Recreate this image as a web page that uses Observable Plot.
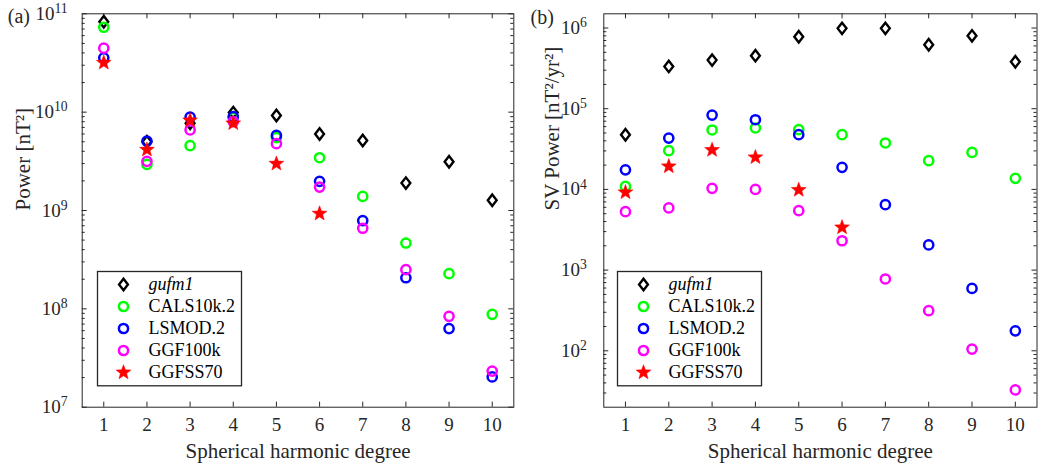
<!DOCTYPE html>
<html><head><meta charset="utf-8">
<script src="https://cdn.jsdelivr.net/npm/d3@7"></script>
<script src="https://cdn.jsdelivr.net/npm/@observablehq/plot@0.6"></script>
<style>
html,body{margin:0;padding:0;background:#fff;}
#wrap{position:relative;width:1038px;height:471px;overflow:hidden;}
#wrap > div{position:absolute;}
</style></head><body><div id="wrap"></div>
<script>
// ---------- data ----------
const degrees = [1,2,3,4,5,6,7,8,9,10];
const models = ["gufm1","CALS10k.2","LSMOD.2","GGF100k","GGFSS70"];
// (a) main-field power [nT^2]
const gufm1A   = [8.3e10, 5.0e9, 7.7e9, 9.9e9, 9.25e9, 6.0e9, 5.15e9, 1.9e9, 3.13e9, 1.27e9];
const calsA    = [7.3e10, 2.94e9, 4.56e9, 8.8e9, 5.5e9, 3.44e9, 1.39e9, 4.67e8, 2.28e8, 8.8e7];
const lsmodA   = [3.57e10, 5.07e9, 8.9e9, 9.0e9, 5.8e9, 1.98e9, 7.9e8, 2.07e8, 6.3e7, 2.03e7];
const ggf100kA = [4.47e10, 3.16e9, 6.6e9, 8.0e9, 4.78e9, 1.73e9, 6.6e8, 2.5e8, 8.4e7, 2.33e7];
const ggfss70A = [3.18e10, 4.15e9, 8.25e9, 7.7e9, 2.99e9, 9.3e8];
// (b) secular-variation power [nT^2/yr^2]
const gufm1B   = [4.76e4, 3.34e5, 4.0e5, 4.54e5, 7.8e5, 9.9e5, 9.9e5, 6.2e5, 8.0e5, 3.82e5];
const calsB    = [1.09e4, 3.02e4, 5.45e4, 5.77e4, 5.5e4, 4.76e4, 3.76e4, 2.27e4, 2.87e4, 1.37e4];
const lsmodB   = [1.75e4, 4.33e4, 8.35e4, 7.3e4, 4.76e4, 1.88e4, 6.46e3, 2.05e3, 593, 177];
const ggf100kB = [5.3e3, 5.9e3, 1.03e4, 1.0e4, 5.45e3, 2.31e3, 776, 314, 105, 32.7];
const ggfss70B = [9.2e3, 1.93e4, 3.08e4, 2.5e4, 9.85e3, 3.38e3];
const yTicksA = [1e7, 1e8, 1e9, 1e10, 1e11];
const yTicksB = [1e2, 1e3, 1e4, 1e5, 1e6];
const yDomainA = [1e7, 1e11];
const yDomainB = [20, 1.5e6];
const minorMultipliers = [2,3,4,5,6,7,8,9];
const xLabel = "Spherical harmonic degree";
const yLabelA = "Power [nT²]";
const yLabelB = "SV Power [nT²/yr²]";

// ---------- styles ----------
const AX = "#262626";
const FONT = "'Liberation Serif', 'Times New Roman', serif";
const diamondTall = {draw(ctx, size){ const r = Math.sqrt(size/Math.PI); const w = r*0.85, h = r*1.1;
  ctx.moveTo(0,-h); ctx.lineTo(w,0); ctx.lineTo(0,h); ctx.lineTo(-w,0); ctx.closePath(); }};
const star5 = {draw(ctx, size){ const R = Math.sqrt(size/Math.PI), ri = R*0.42;
  for (let i = 0; i < 10; i++){ const a = -Math.PI/2 + i*Math.PI/5, rr = i%2 ? ri : R;
    const x = rr*Math.cos(a), y = rr*Math.sin(a); if (i) ctx.lineTo(x,y); else ctx.moveTo(x,y);} ctx.closePath(); }};
const modelStyle = {
  "gufm1":     {symbol: diamondTall, r: 5.2, stroke: "#000000", strokeWidth: 2.4, fill: "none"},
  "CALS10k.2": {symbol: "circle", r: 4.6, stroke: "#00ff00", strokeWidth: 2.5, fill: "none"},
  "LSMOD.2":   {symbol: "circle", r: 4.6, stroke: "#0000ff", strokeWidth: 2.5, fill: "none"},
  "GGF100k":   {symbol: "circle", r: 4.6, stroke: "#ff00ff", strokeWidth: 2.5, fill: "none"},
  "GGFSS70":   {symbol: star5, r: 7.8, stroke: "#ff0000", strokeWidth: 0.5, fill: "#ff0000"}
};

function rows(seriesList){
  return seriesList.flatMap((vals, i) => vals.map((v, j) => ({model: models[i], n: degrees[j], v})));
}

function superscriptTicks(svg){
  svg.querySelectorAll('g[aria-label="y-axis tick label"] text').forEach(t => {
    const s = t.textContent; if (!s.includes("^")) return;
    const [b, e] = s.split("^");
    t.textContent = b;
    const ts = document.createElementNS("http://www.w3.org/2000/svg", "tspan");
    ts.setAttribute("dy", "-0.5em"); ts.setAttribute("font-size", "0.72em");
    ts.textContent = e; t.appendChild(ts);
  });
}

function panel({series, yDomain, yMajor, width, ml, mr, ylabel, ylabelDx, tickPad, tag, tagDx, tagDy}){
  const height = 471, mt = 13.3, mb = 64.3;
  const plotW = width - ml - mr, plotH = height - mt - mb;
  const yMinor = yMajor.flatMap(t => minorMultipliers.map(k => k*t)).concat(minorMultipliers.map(k => k*yMajor[0]/10))
    .filter(v => v > yDomain[0]*1.0001 && v < yDomain[1]*0.9999);
  const data = rows(series);
  const tickOpts = {stroke: AX, strokeWidth: 1};
  const txt = {fontFamily: FONT, fill: AX, lineAnchor: "middle"};
  const svg = Plot.plot({
    width, height, marginLeft: ml, marginRight: mr, marginTop: mt, marginBottom: mb,
    style: {fontFamily: FONT, fontSize: "19px", color: AX, background: "white", overflow: "visible"},
    x: {domain: [0.5, 10.5]},
    y: {type: "log", domain: yDomain},
    marks: [
      Plot.tickY(yMajor, {y: d => d, insetRight: plotW - 5, ...tickOpts}),
      Plot.tickY(yMajor, {y: d => d, insetLeft: plotW - 5, ...tickOpts}),
      Plot.tickY(yMinor, {y: d => d, insetRight: plotW - 3, ...tickOpts}),
      Plot.tickY(yMinor, {y: d => d, insetLeft: plotW - 3, ...tickOpts}),
      Plot.tickX(degrees, {x: d => d, insetTop: plotH - 5, ...tickOpts}),
      Plot.tickX(degrees, {x: d => d, insetBottom: plotH - 5, ...tickOpts}),
      Plot.frame({stroke: AX, strokeWidth: 1}),
      Plot.axisX({ticks: degrees, tickSize: 0, tickPadding: 10, label: null, tickFormat: d => String(d), fontSize: 19, fontFamily: FONT}),
      Plot.axisY({ticks: yMajor, tickSize: 0, tickPadding: tickPad, label: null,
        tickFormat: d => "10^" + Math.round(Math.log10(d)), fontSize: 19, fontFamily: FONT}),
      Plot.text([xLabel], {frameAnchor: "bottom", dy: 43.6, text: d => d, fontSize: 21, ...txt}),
      Plot.text([ylabel], {frameAnchor: "left", rotate: -90, dx: ylabelDx, text: d => d, fontSize: 21, ...txt}),
      Plot.text([tag], {frameAnchor: "top-left", dx: tagDx, dy: tagDy, text: d => d, textAnchor: "start", fontSize: 20, ...txt}),
      ...models.map(m => Plot.dot(data.filter(d => d.model === m), {x: "n", y: "v", ...modelStyle[m]}))
    ]
  });
  superscriptTicks(svg);
  return svg;
}

function legend(){
  return Plot.plot({
    width: 144, height: 114.3, margin: 0,
    style: {fontFamily: FONT, fontSize: "18px", color: AX, background: "white", overflow: "visible"},
    y: {type: "point", domain: models, range: [12.6, 101], padding: 0, axis: null},
    marks: [
      Plot.frame({stroke: AX, strokeWidth: 1.3}),
      ...models.map(m => Plot.dot([m], {y: d => d, frameAnchor: "left", dx: 26, ...modelStyle[m]})),
      ...models.map(m => Plot.text([m], {y: d => d, frameAnchor: "left", dx: 51, text: d => d, textAnchor: "start",
        lineAnchor: "middle", fontFamily: FONT, fontSize: 18, fill: "#000", fontStyle: m === "gufm1" ? "italic" : "normal"}))
    ]
  });
}

const wrap = document.getElementById("wrap");
function place(node, left, top){ const d = document.createElement("div"); d.style.left = left + "px"; d.style.top = top + "px"; d.appendChild(node); wrap.appendChild(d); }

place(panel({series: [gufm1A, calsA, lsmodA, ggf100kA, ggfss70A], yDomain: yDomainA, yMajor: yTicksA,
  width: 519, ml: 81.7, mr: 5.7, ylabel: yLabelA, ylabelDx: -58.7, tickPad: 14.5, tag: "(a)", tagDx: -74.4, tagDy: 2.3}), 0, 0);
place(panel({series: [gufm1B, calsB, lsmodB, ggf100kB, ggfss70B], yDomain: yDomainB, yMajor: yTicksB,
  width: 519, ml: 84.3, mr: 1.5, ylabel: yLabelB, ylabelDx: -52, tickPad: 17, tag: "(b)", tagDx: -73.3, tagDy: 3.3}), 519, 0);
place(legend(), 96.7, 270.7);
place(legend(), 616.7, 270.7);
</script></body></html>
